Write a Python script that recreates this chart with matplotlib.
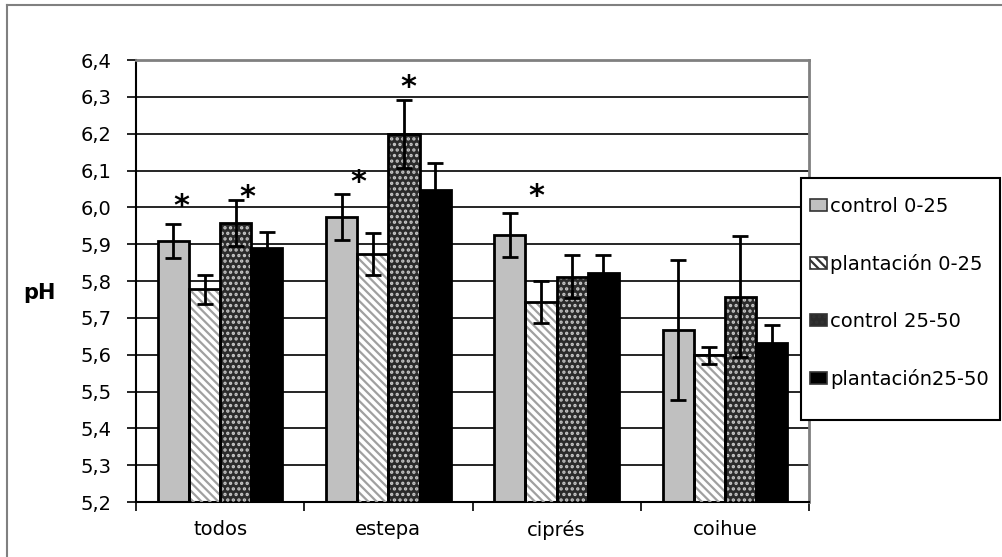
import matplotlib
matplotlib.use('Agg')
import matplotlib.pyplot as plt
import numpy as np
from matplotlib.patches import Patch, Rectangle
from matplotlib.lines import Line2D

plt.rcParams['font.family'] = ['DejaVu Sans']
plt.rcParams['hatch.linewidth'] = 1.6

# data
sites = ['todos', 'estepa', 'ciprés', 'coihue']
series = ['control 0-25', 'plantación 0-25', 'control 25-50', 'plantación25-50']
ph = [
    [5.909, 5.974, 5.925, 5.667],   # control 0-25
    [5.777, 5.874, 5.742, 5.599],   # plantación 0-25
    [5.958, 6.199, 5.812, 5.757],   # control 25-50
    [5.889, 6.048, 5.822, 5.633],   # plantación25-50
]
err = [
    [0.047, 0.062, 0.060, 0.190],
    [0.039, 0.057, 0.057, 0.023],
    [0.062, 0.092, 0.058, 0.164],
    [0.044, 0.072, 0.049, 0.048],
]
# significance marks: (series index, site index, baseline y of star)
stars = [(0, 0, 5.980), (2, 0, 6.003), (0, 1, 6.045), (2, 1, 6.303), (0, 2, 6.005)]
star_dx = [0.048, 0.071, 0.10, 0.027, 0.16]

# styles
faces = ['#c0c0c0', 'white', '#2b2b2b', 'black']
hatches = [None, '\\\\\\\\', '...', None]
hatch_cols = [None, '#a0a0a0', '#c8c8c8', None]

fig = plt.figure(figsize=(10.02, 5.57), dpi=100)
ax = fig.add_axes([136/1002, 1 - 502/557, (809-136)/1002, (502-60)/557])

x = np.arange(len(sites))
w = 0.185
for k in range(4):
    xs = x + (k - 1.5) * w
    ax.bar(xs, ph[k], w, color=faces[k], edgecolor='none', zorder=2)
    if hatches[k]:
        ax.bar(xs, ph[k], w, color='none', edgecolor=hatch_cols[k],
               hatch=hatches[k], linewidth=0, zorder=3)
    ax.bar(xs, ph[k], w, color='none', edgecolor='black', linewidth=2, zorder=4)
    ax.errorbar(xs, ph[k], yerr=err[k], fmt='none', ecolor='black',
                elinewidth=2, capsize=6, capthick=2, zorder=5)

for (k, s, yv), dx in zip(stars, star_dx):
    ax.text(x[s] + (k - 1.5) * w + dx, yv, '*', ha='center', va='baseline',
            fontsize=22, fontweight='bold', zorder=6)

ax.set_ylim(5.2, 6.4)
ax.set_xlim(-0.5, 3.5)
yt = np.arange(5.2, 6.41, 0.1)
ax.set_yticks(yt)
ax.set_yticklabels([f'{v:.1f}'.replace('.', ',') for v in yt], fontsize=14)
ax.set_xticks(x)
ax.set_xticklabels(sites, fontsize=14)
ax.set_xticks(np.arange(-0.5, 3.6, 1), minor=True)
ax.tick_params(axis='x', which='major', length=0, pad=13)
ax.tick_params(axis='x', which='minor', length=6.5, width=1.2)
ax.tick_params(axis='y', length=6.5, width=1.2, pad=11)
ax.yaxis.grid(True, color='black', linewidth=1.2, zorder=0)
ax.set_axisbelow(True)
for side in ['top', 'right']:
    ax.spines[side].set_color('#808080')
    ax.spines[side].set_linewidth(2)
for side in ['left', 'bottom']:
    ax.spines[side].set_color('black')
    ax.spines[side].set_linewidth(1.5)

fig.text(39/1002, 1 - 293/557, 'pH', fontsize=15, fontweight='bold',
         ha='center', va='center')

# legend box
fig.add_artist(Rectangle((801/1002, 1 - 420/557), 199/1002, 242/557,
                         transform=fig.transFigure, facecolor='white',
                         edgecolor='black', linewidth=1.5, zorder=8))
handles = [Patch(facecolor=faces[k], edgecolor='#333333',
                 hatch=hatches[k], linewidth=1.2) for k in range(4)]
leg = fig.legend(handles, series, loc='upper left',
                 bbox_to_anchor=(810/1002, 1 - 197/557), fontsize=14,
                 frameon=False, handlelength=0.88, handleheight=0.52,
                 handletextpad=0.15, labelspacing=1.95, borderpad=0,
                 borderaxespad=0)
leg.set_zorder(9)

# outer chart frame
fig.add_artist(Line2D([7/1002, 1], [1 - 5/557, 1 - 5/557], color='#808080', lw=1.5))
fig.add_artist(Line2D([7/1002, 7/1002], [0, 1 - 5/557], color='#808080', lw=1.5))

fig.savefig('out.png', dpi=100)
